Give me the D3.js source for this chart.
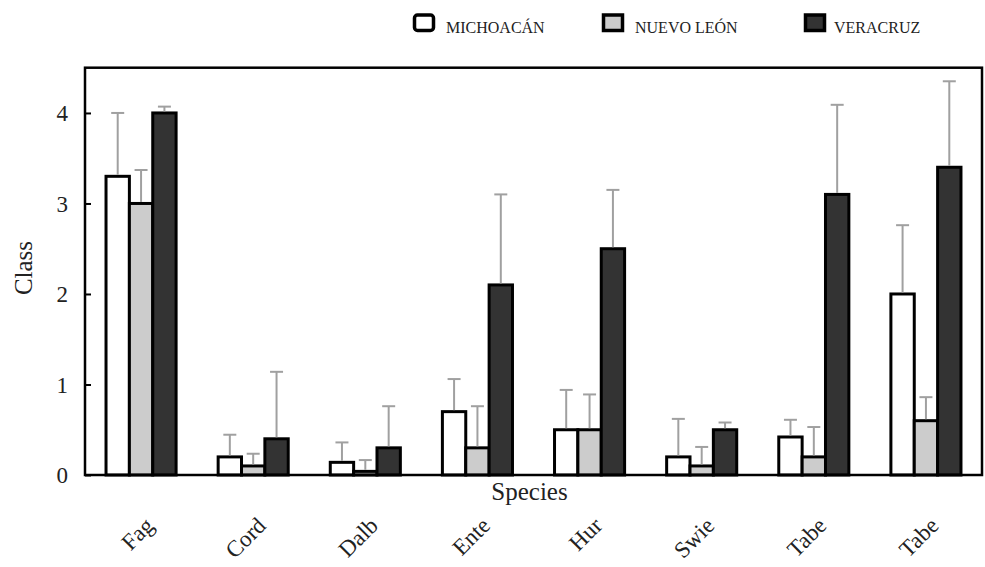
<!DOCTYPE html>
<html><head><meta charset="utf-8">
<script src="https://cdn.jsdelivr.net/npm/d3@7"></script>
<style>body{margin:0;background:#fff}svg{display:block}svg text{font-family:"Liberation Serif","Times New Roman","DejaVu Serif",serif !important;fill:#222}</style>
</head><body>
<svg id="c" width="985" height="567"></svg>
<script>
const categories = ["Fag","Cord","Dalb","Ente","Hur","Swie","Tabe","Tabe"];
const seriesNames = ["MICHOACÁN","NUEVO LEÓN","VERACRUZ"];
const michoacan = [3.3, 0.2, 0.14, 0.7, 0.5, 0.2, 0.42, 2.0];
const michoacanErr = [4.0, 0.445, 0.36, 1.06, 0.94, 0.62, 0.61, 2.76];
const nuevoLeon = [3.0, 0.1, 0.04, 0.3, 0.5, 0.1, 0.2, 0.6];
const nuevoLeonErr = [3.37, 0.235, 0.165, 0.76, 0.89, 0.31, 0.53, 0.86];
const veracruz = [4.0, 0.4, 0.3, 2.1, 2.5, 0.5, 3.1, 3.4];
const veracruzErr = [4.07, 1.14, 0.76, 3.1, 3.15, 0.58, 4.09, 4.35];
const yTicks = [0,1,2,3,4];
const fills = ["#ffffff","#cccccc","#333333"];

const svg = d3.select("#c");
const L = 85, R = 982, T = 67.7, B = 475;
const x0 = d3.scaleBand().domain(d3.range(categories.length)).range([L, R]).paddingInner(0).paddingOuter(0);
const x1 = d3.scaleBand().domain([0,1,2]).range([0, x0.bandwidth()]).paddingOuter(0.9).paddingInner(0);
const y = d3.scaleLinear().domain([0, 4.5]).range([B, T]);

const series = [
  {vals: michoacan, err: michoacanErr},
  {vals: nuevoLeon, err: nuevoLeonErr},
  {vals: veracruz, err: veracruzErr}
];

series.forEach((s, si) => {
  const g = svg.append("g");
  g.selectAll("rect").data(s.vals).join("rect")
    .attr("x", (d,i) => x0(i) + x1(si))
    .attr("y", d => y(d))
    .attr("width", x1.bandwidth())
    .attr("height", d => B - y(d))
    .attr("fill", fills[si])
    .attr("stroke", "#000").attr("stroke-width", 3);
});
series.forEach((s, si) => {
  const g = svg.append("g").attr("stroke", "#a0a0a0").attr("stroke-width", 2);
  s.vals.forEach((v, i) => {
    const cx = x0(i) + x1(si) + x1.bandwidth()/2;
    g.append("line").attr("x1", cx).attr("x2", cx).attr("y1", y(v) - 1.5).attr("y2", y(s.err[i]));
    g.append("line").attr("x1", cx - 6.5).attr("x2", cx + 6.5).attr("y1", y(s.err[i])).attr("y2", y(s.err[i]));
  });
});

svg.append("rect").attr("x", L).attr("y", T).attr("width", R - L).attr("height", B - T)
  .attr("fill", "none").attr("stroke", "#000").attr("stroke-width", 2.5);

const yAxis = svg.append("g").attr("transform", `translate(${L},0)`)
  .call(d3.axisLeft(y).tickValues(yTicks).tickSize(-6).tickPadding(17).tickFormat(d3.format("d")));
yAxis.attr("font-family", null);
yAxis.select(".domain").remove();
yAxis.selectAll(".tick line").attr("stroke", "#000").attr("stroke-width", 2);
yAxis.selectAll(".tick text").style("font-size", "23px").attr("fill", "#222").attr("dy", "0.34em");

svg.append("g").selectAll("text").data(categories).join("text")
  .attr("transform", (d,i) => `translate(${x0(i) + x0.bandwidth()/2 + 14},${527}) rotate(-45)`)
  .attr("text-anchor", "end")
  .style("font-size", "23px")
  .text(d => d);

svg.append("text").attr("x", (L+R)/2 - 4).attr("y", 500).attr("text-anchor", "middle").style("font-size", "25px").text("Species");
svg.append("text").attr("transform", "translate(32,268) rotate(-90)").attr("text-anchor", "middle").style("font-size", "25px").text("Class");

const legX = [413, 602, 804];
const leg = svg.append("g");
seriesNames.forEach((n, i) => {
  leg.append("rect").attr("x", legX[i] + 1.5).attr("y", 15).attr("width", 19).attr("height", 15.5)
    .attr("rx", i === 0 ? 3 : 0)
    .attr("fill", fills[i]).attr("stroke", "#000").attr("stroke-width", 3.5);
  leg.append("text").attr("x", legX[i] + (i === 2 ? 30 : 33)).attr("y", 33).style("font-size", "16px").text(n);
});
</script>
</body></html>
